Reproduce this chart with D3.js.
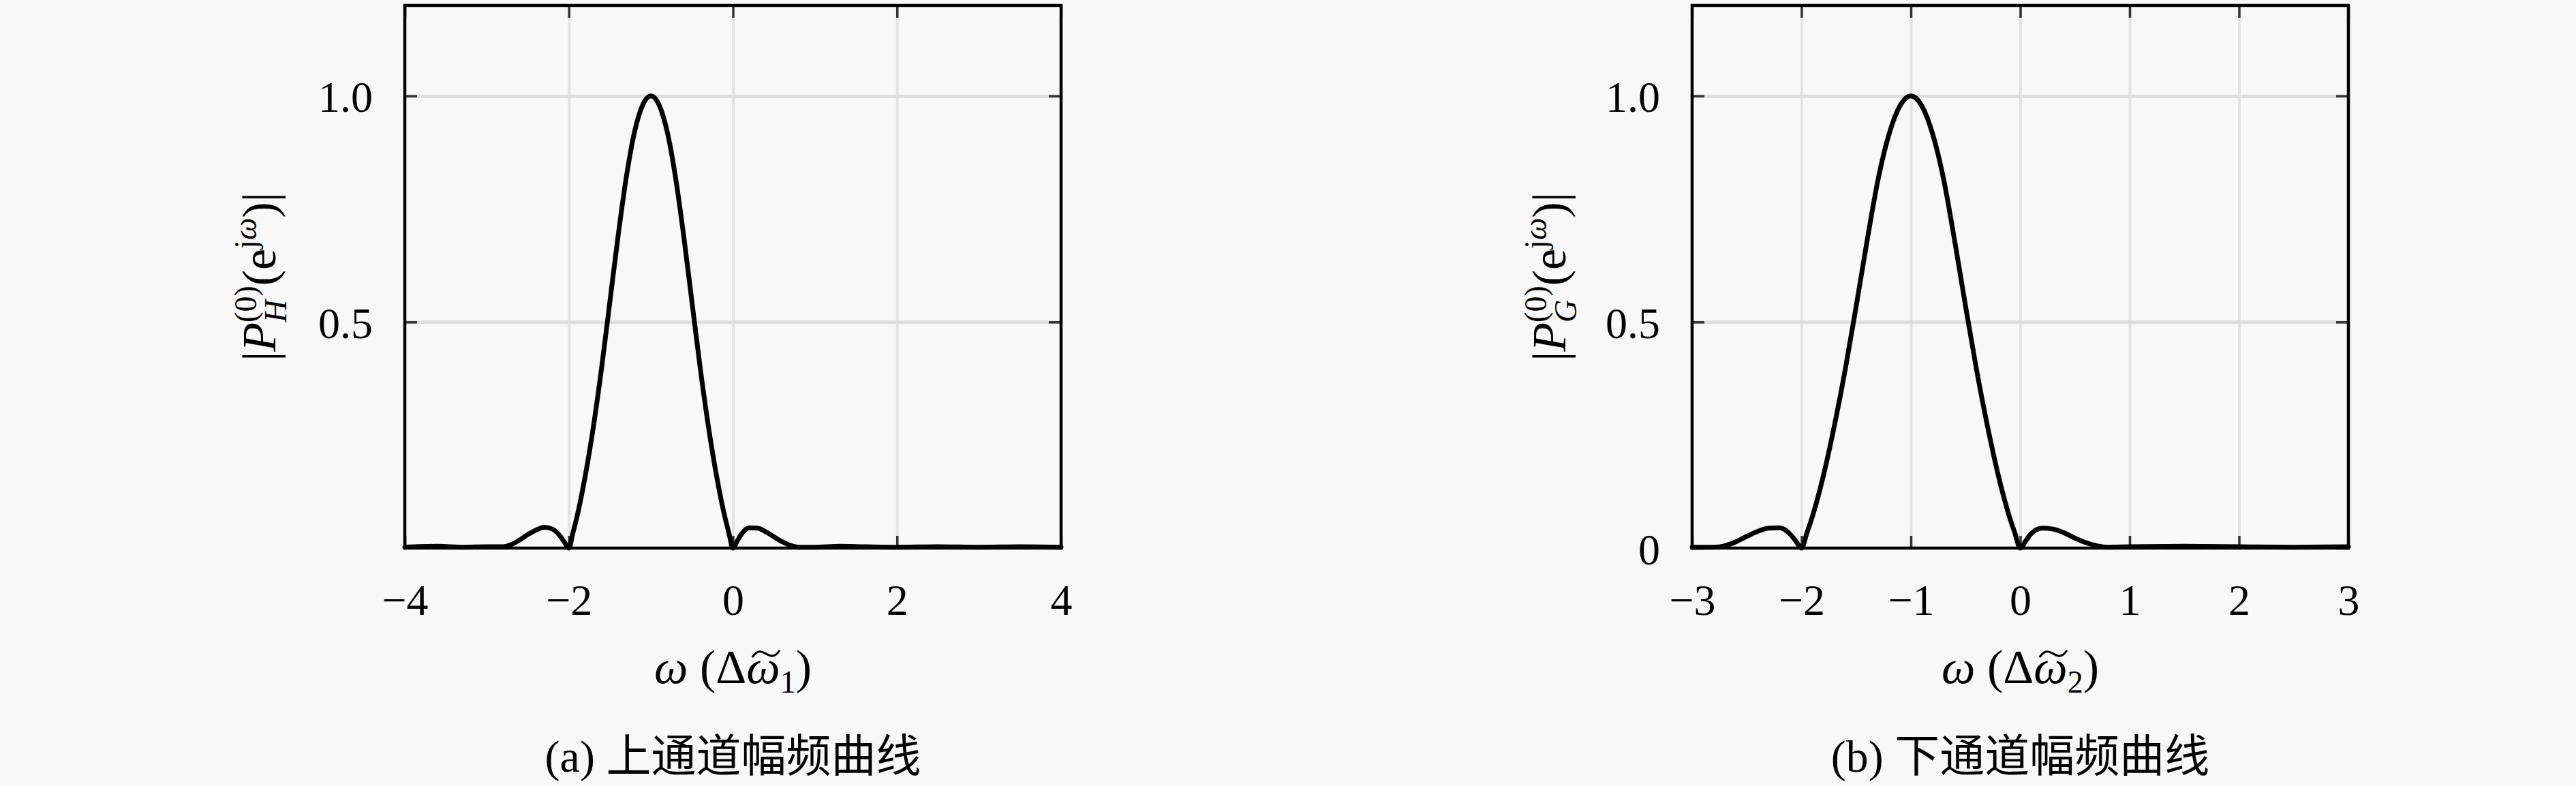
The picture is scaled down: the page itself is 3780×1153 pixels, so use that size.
<!DOCTYPE html>
<html><head><meta charset="utf-8">
<script src="https://cdn.jsdelivr.net/npm/d3@7"></script>
<style>html,body{margin:0;padding:0;background:#f8f8f8;} svg{display:block}</style>
</head><body>
<svg id="c" width="3780" height="1153"></svg>
<script>
// ---- data ----
const omega1 = [-4, -3.6, -3.3, -3.0, -2.8, -2.7, -2.6, -2.5, -2.4, -2.3, -2.2, -2.1, -2.05,
  -2.0, -1.95, -1.9, -1.8, -1.7, -1.6, -1.5, -1.4, -1.3, -1.2, -1.1, -1.0, -0.9, -0.8, -0.7,
  -0.6, -0.5, -0.4, -0.3, -0.2, -0.1, -0.05, 0, 0.05, 0.1, 0.2, 0.3, 0.4, 0.5, 0.6, 0.7, 0.8,
  1.0, 1.3, 1.6, 2.0, 2.5, 3.0, 3.5, 4.0];
const mag1 = [0.002, 0.004, 0.002, 0.003, 0.003, 0.008, 0.018, 0.030, 0.040, 0.046, 0.042, 0.025, 0.012,
  0.0, 0.034, 0.07, 0.16, 0.27, 0.40, 0.545, 0.69, 0.82, 0.92, 0.98, 1.0, 0.98, 0.92, 0.82,
  0.69, 0.545, 0.40, 0.27, 0.16, 0.07, 0.034, 0.0, 0.015, 0.030, 0.045, 0.044, 0.036, 0.025, 0.014, 0.006, 0.002,
  0.002, 0.004, 0.003, 0.002, 0.003, 0.002, 0.003, 0.002];

const omega2 = [-3, -2.8, -2.7, -2.6, -2.5, -2.4, -2.3, -2.2, -2.1, -2.05, -2.0, -1.95,
  -1.9, -1.8, -1.7, -1.6, -1.5, -1.4, -1.3, -1.2, -1.1, -1.0, -0.9, -0.8, -0.7, -0.6, -0.5,
  -0.4, -0.3, -0.2, -0.1, -0.05, 0, 0.05, 0.1, 0.2, 0.3, 0.4, 0.5, 0.6, 0.7, 0.8,
  1.0, 1.5, 2.0, 2.5, 3.0];
const mag2 = [0.002, 0.002, 0.005, 0.014, 0.026, 0.037, 0.044, 0.045, 0.030, 0.015, 0.0, 0.034,
  0.07, 0.16, 0.27, 0.395, 0.535, 0.68, 0.815, 0.915, 0.978, 1.0, 0.978, 0.915, 0.815, 0.68, 0.535,
  0.395, 0.27, 0.16, 0.07, 0.034, 0.0, 0.016, 0.032, 0.044, 0.042, 0.034, 0.022, 0.012, 0.005, 0.002,
  0.003, 0.004, 0.003, 0.002, 0.003];

const xTicks1 = [-4, -2, 0, 2, 4];
const xTicks2 = [-3, -2, -1, 0, 1, 2, 3];
const yTicks1 = [0.5, 1.0];
const yTicks2 = [0, 0.5, 1.0];
const yGrid = [0.5, 1.0];
const yDomain = [0, 1.2];
const captionTags = ["(a)", "(b)"];
const captions = ["上通道幅频曲线", "下通道幅频曲线"];
const ySubs = ["H", "G"];
const xSubs = ["1", "2"];

// ---- drawing ----
const SERIF = "'Liberation Serif', 'DejaVu Serif', serif";
const CJK = "'Noto Sans CJK SC', sans-serif";
const svg = d3.select("#c");
svg.append("rect").attr("width", 3780).attr("height", 1153).attr("fill", "#f8f8f8");

const TOP = 8, BOTTOM = 804;
const panels = [
  {left: 594, right: 1557, xDomain: [-4, 4], xTicks: xTicks1, yTicks: yTicks1, omega: omega1, mag: mag1,
   ySub: ySubs[0], xSub: xSubs[0], tag: captionTags[0], cap: captions[0], yTitleX: 382},
  {left: 2483, right: 3446, xDomain: [-3, 3], xTicks: xTicks2, yTicks: yTicks2, omega: omega2, mag: mag2,
   ySub: ySubs[1], xSub: xSubs[1], tag: captionTags[1], cap: captions[1], yTitleX: 2275}
];

function rich(parent, pieces, baseSize) {
  const t = parent.append("text").attr("font-family", SERIF).attr("fill", "#000");
  let cur = 0, prevLen = 0, pending = 0;
  pieces.forEach(p => {
    const ts = t.append("tspan").text(p.t).attr("font-size", p.size || baseSize);
    if (p.italic) ts.attr("font-style", "italic");
    if (p.family) ts.attr("font-family", p.family);
    const sh = p.shift || 0;
    if (sh - cur !== 0) ts.attr("dy", sh - cur);
    cur = sh;
    const len = ts.node().getComputedTextLength();
    let dx = pending; pending = 0;
    if (p.stack) { dx += -prevLen; if (len < prevLen) pending = prevLen - len; prevLen = Math.max(prevLen, len); }
    else prevLen = len;
    if (dx) ts.attr("dx", dx);
  });
  return t;
}

const xFmt = d3.format("d");
const yFmt = d => d === 0 ? "0" : d3.format(".1f")(d);

panels.forEach(P => {
  const x = d3.scaleLinear().domain(P.xDomain).range([P.left, P.right]);
  const y = d3.scaleLinear().domain(yDomain).range([BOTTOM, TOP]);
  const g = svg.append("g");

  // grid
  g.append("g").attr("transform", `translate(0,${BOTTOM})`)
    .call(d3.axisBottom(x).tickValues(P.xTicks).tickSize(-(BOTTOM - TOP)).tickFormat(""))
    .call(s => s.select(".domain").remove())
    .selectAll("line").attr("stroke", "#e3e3e3").attr("stroke-width", 4);
  g.append("g").attr("transform", `translate(${P.left},0)`)
    .call(d3.axisLeft(y).tickValues(yGrid).tickSize(-(P.right - P.left)).tickFormat(""))
    .call(s => s.select(".domain").remove())
    .selectAll("line").attr("stroke", "#dedede").attr("stroke-width", 5);

  // inward ticks
  const tk = 18;
  const tickStyle = s => { s.select(".domain").remove(); s.selectAll("line").attr("stroke", "#333").attr("stroke-width", 3.5); };
  g.append("g").attr("transform", `translate(0,${TOP})`).call(d3.axisTop(x).tickValues(P.xTicks).tickSize(-tk).tickFormat("")).call(tickStyle);
  g.append("g").attr("transform", `translate(0,${BOTTOM})`).call(d3.axisBottom(x).tickValues(P.xTicks).tickSize(-tk).tickFormat("")).call(tickStyle);
  g.append("g").attr("transform", `translate(${P.left},0)`).call(d3.axisLeft(y).tickValues(P.yTicks).tickSize(-tk).tickFormat("")).call(tickStyle);
  g.append("g").attr("transform", `translate(${P.right},0)`).call(d3.axisRight(y).tickValues(P.yTicks).tickSize(-tk).tickFormat("")).call(tickStyle);

  // frame
  g.append("rect").attr("x", P.left).attr("y", TOP).attr("width", P.right - P.left).attr("height", BOTTOM - TOP)
    .attr("fill", "none").attr("stroke", "#000").attr("stroke-width", 4.5);

  // tick labels
  g.append("g").attr("transform", `translate(0,${BOTTOM})`)
    .call(d3.axisBottom(x).tickValues(P.xTicks).tickSize(0).tickPadding(53).tickFormat(xFmt))
    .call(s => s.select(".domain").remove())
    .selectAll("text").attr("font-family", SERIF).attr("font-size", 64).attr("fill", "#000");
  g.append("g").attr("transform", `translate(${P.left},0)`)
    .call(d3.axisLeft(y).tickValues(P.yTicks).tickSize(0).tickPadding(47).tickFormat(yFmt))
    .call(s => s.select(".domain").remove())
    .selectAll("text").attr("font-family", SERIF).attr("font-size", 64).attr("fill", "#000").attr("dy", "0.36em");

  // curve
  const pts = P.omega.map((w, i) => [w, P.mag[i]]);
  g.append("path").datum(pts)
    .attr("d", d3.line().x(d => x(d[0])).y(d => y(d[1])).curve(d3.curveMonotoneX))
    .attr("fill", "none").attr("stroke", "#000").attr("stroke-width", 7)
    .attr("stroke-linejoin", "round").attr("stroke-linecap", "round");

  const cx = (P.left + P.right) / 2;

  // y title (rotated)
  const yg = g.append("g").attr("transform", `translate(${P.yTitleX},${(TOP + BOTTOM) / 2}) rotate(-90)`);
  const yt = rich(yg, [
    {t: "|"}, {t: "P", italic: true},
    {t: "(0)", size: 46, shift: -28},
    {t: P.ySub, italic: true, size: 46, shift: 16, stack: true},
    {t: "(e", shift: 0}, {t: "j", size: 46, shift: -28}, {t: "ω", size: 46, shift: -28, italic: true},
    {t: ")|", shift: 0}
  ], 70);
  let bb = yt.node().getBBox();
  yt.attr("transform", `translate(${-(bb.x + bb.width / 2)},${-(bb.y + bb.height / 2)})`);

  // x title: ω (Δω̃_n) — tilde accent drawn as a small stroke over the second ω
  const xg = g.append("g").attr("transform", `translate(${cx},1002)`);
  const xt = rich(xg, [
    {t: "ω", italic: true}, {t: " (Δ"}, {t: "ω", italic: true},
    {t: P.xSub, size: 46, shift: 14}, {t: ")", shift: 0}
  ], 70);
  bb = xt.node().getBBox();
  const off = -(bb.x + bb.width / 2);
  xt.attr("transform", `translate(${off},0)`);
  const ext = xt.node().getExtentOfChar(4);
  const tw = ext.width * 0.78, tx0 = off + ext.x + (ext.width - tw) / 2 + 4, ty = -42;
  xg.append("path")
    .attr("d", `M${tx0},${ty + 3} C${tx0 + tw * 0.22},${ty - 9} ${tx0 + tw * 0.4},${ty - 3} ${tx0 + tw * 0.5},${ty - 1}` +
               ` S${tx0 + tw * 0.8},${ty + 7} ${tx0 + tw},${ty - 5}`)
    .attr("fill", "none").attr("stroke", "#000").attr("stroke-width", 3.2).attr("stroke-linecap", "round");

  // caption
  const cg = g.append("g").attr("transform", `translate(${cx},1132)`);
  const ct = cg.append("text").attr("font-size", 66).attr("fill", "#000");
  ct.append("tspan").attr("font-family", SERIF).text(P.tag + " ");
  ct.append("tspan").attr("font-family", CJK).text(P.cap);
  bb = ct.node().getBBox();
  ct.attr("transform", `translate(${-(bb.x + bb.width / 2)},0)`);
});
</script>
</body></html>
